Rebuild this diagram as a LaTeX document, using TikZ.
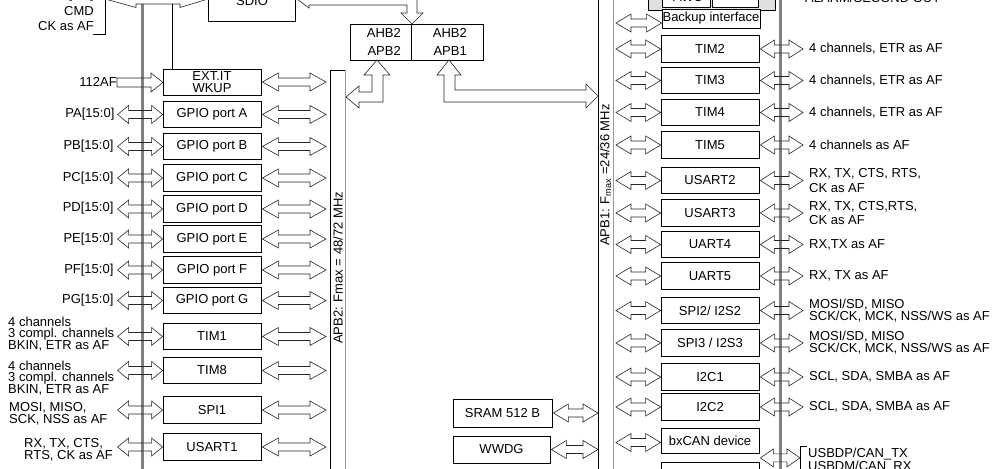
\documentclass[tikz,border=0pt]{standalone}
\usepackage{fontspec}
\setmainfont{Liberation Sans}
\usetikzlibrary{calc}
\newcommand\dbl[3][15pt]{\path[arr] let \p1=#2,\p2=#3 in (\x1,\y1) -- ++(#1,9pt) -- ++(0,-5pt) -- (\x2-#1,\y1+4pt) -- ++(0,5pt) -- (\x2,\y1) -- ++(-#1,-9pt) -- ++(0,5pt) -- (\x1+#1,\y1-4pt) -- ++(0,-5pt) -- cycle;}
\newcommand\lbox[3]{%
 \node[blk] (#1) at (212,#2) {#3};
 \dbl[11pt]{($(#1.west)+(-45,0)$)}{(#1.west)}
 \dbl[16pt]{($(#1.east)+(1,0)$)}{($(#1.east -| apbtwo)+(-4,0)$)}
}
\newcommand\rbox[4]{%
 \node[blk] (#1) at (710,#2) {#3};
 \node[anchor=west, align=left] (#1-l) at (809,#2) {#4};
 \dbl{($(#1.west -| apbone)+(3,0)$)}{(#1.west)}
 \dbl[14pt]{($(#1.east)+(1,0)$)}{($(#1-l.west)+(-6,0)$)}
}
\begin{document}
\begin{tikzpicture}[x=1pt,y=-1pt,
 every node/.style={font=\fontsize{13}{11.8}\selectfont, inner sep=0pt},
 blk/.style={draw, line width=0.8pt, minimum width=98pt, minimum height=26.5pt, align=center},
 arr/.style={draw=black!85, line width=0.6pt},
 bus/.style={draw=black!50, line width=3pt},
 thin/.style={draw, line width=0.8pt}]
\useasboundingbox (0,0) rectangle (1005,469);
\fill[white] (0,0) rectangle (1005,469);
\clip (0,0) rectangle (1005,469);
\coordinate (apbtwo) at (330,70);
\coordinate (apbone) at (613,0);
\coordinate (apbonel) at (598,0);
% buses
\draw[bus] (142,4) -- (142,475);
\draw[bus] (780,-5) -- (780,475);
\draw[thin] (345,70) -- (330,70) -- (330,475);
\draw[draw=black!40, line width=0.9pt] (345,70) -- (345,475);
\draw[thin] (598,-5) -- (598,475);
\draw[draw=black!40, line width=0.9pt] (613,-5) -- (613,475);
\node[rotate=90] (apb2t) at (338,268) {APB2: Fmax = 48/72 MHz};
\node[rotate=90] (apb1t) at (605.5,175) {APB1: F\textsubscript{max} =24/36 MHz};
% top left pins and SDIO
\node[anchor=east] (dpin) at (94,-5) {D[7:0]};
\node[anchor=east] (cmd) at (94,11) {CMD};
\node[anchor=east] (ck) at (94,26.5) {CK as AF};
\draw[thin] (105,-8) -- (105,34) -- (93,34);
\node[draw, line width=0.8pt, minimum width=87pt, minimum height=40pt] (sdio) at (251.5,1.5) {};
\node (sdiot) at (252,1) {SDIO};
\path[arr] (105,-1) -- (136,-9.5) -- (136,-6) -- (180,-6) -- (180,-9.5) -- (208,-1) -- (180,7.5) -- (180,4) -- (136,4) -- (136,7.5) -- cycle;
\path[arr] (297,-1) -- (309,-10) -- (309,-5) -- (417,-5) -- (417,13) -- (423,13) -- (412,24) -- (401,13) -- (407,13) -- (407,5) -- (309,5) -- (309,8) -- cycle;
% AHB bridge
\node[draw, line width=0.8pt, minimum width=61pt, minimum height=36pt] (ahbl) at (380.5,42) {};
\node[draw, line width=0.8pt, minimum width=72pt, minimum height=36pt] (ahbr) at (447,42) {};
\node[anchor=east] at (401,33) {AHB2};
\node[anchor=east] at (401,51) {APB2};
\node[anchor=east] at (467,33) {AHB2};
\node[anchor=east] at (467,51) {APB1};
\path[arr] (377,60) -- (390,75) -- (383,75) -- (383,102) -- (359,102) -- (359,108) -- (346,97) -- (359,86) -- (359,92) -- (372,92) -- (372,75) -- (364,75) -- cycle;
\path[arr] (449,60) -- (461,75) -- (455,75) -- (455,90) -- (586,90) -- (586,84) -- (598,96) -- (586,108) -- (586,102) -- (444,102) -- (444,75) -- (437,75) -- cycle;
% left side
\node[blk, minimum height=26pt] (ext) at (212,82) {EXT.IT\\WKUP};
\draw[thin] ($(ext.north west)+(10,0)$) -- ++(0,-65);
\node[anchor=east] (afl) at (117,82) {112AF};
\path[arr] (117,78) -- (151,78) -- (151,73) -- (163,82.5) -- (151,92) -- (151,87) -- (117,87) -- cycle;
\dbl[16pt]{($(ext.east)+(1,0)$)}{($(ext.east -| apbtwo)+(-4,0)$)}
\lbox{gpa}{114.5}{GPIO port A}
\lbox{gpb}{146.5}{GPIO port B}
\lbox{gpc}{178}{GPIO port C}
\lbox{gpd}{209}{GPIO port D}
\lbox{gpe}{239}{GPIO port E}
\lbox{gpf}{270}{GPIO port F}
\lbox{gpg}{300.5}{GPIO port G}
\lbox{tim1}{336.5}{TIM1}
\lbox{tim8}{370.5}{TIM8}
\lbox{spi1}{410}{SPI1}
\lbox{usart1}{447}{USART1}
\node[anchor=east] at ($(gpa.west)+(-48,0)$) {PA[15:0]};
\node[anchor=east] at ($(gpb.west)+(-49,0)$) {PB[15:0]};
\node[anchor=east] at ($(gpc.west)+(-49,0)$) {PC[15:0]};
\node[anchor=east] at ($(gpd.west)+(-49,-1)$) {PD[15:0]};
\node[anchor=east] at ($(gpe.west)+(-49,0)$) {PE[15:0]};
\node[anchor=east] at ($(gpf.west)+(-49,0)$) {PF[15:0]};
\node[anchor=east] at ($(gpg.west)+(-49,0)$) {PG[15:0]};
\node[anchor=west, align=left] at (8,334) {4 channels\\3 compl. channels\\BKIN, ETR as AF};
\node[anchor=west, align=left] at (8,378) {4 channels\\3 compl. channels\\BKIN, ETR as AF};
\node[anchor=west, align=left] at (9,414) {MOSI, MISO,\\SCK, NSS as AF};
\node[anchor=west, align=left] at (24,450) {RX, TX, CTS,\\RTS, CK as AF};
% middle
\node[blk, minimum width=99pt, minimum height=28pt] (sram) at (502.5,413) {SRAM 512 B};
\node[blk, minimum width=97pt, minimum height=27pt] (wwdg) at (501.5,449.5) {WWDG};
\dbl{($(sram.east)+(1,0)$)}{(sram.east -| apbonel)}
\dbl{($(wwdg.east)+(1,0)$)}{(wwdg.east -| apbonel)}
% right top: backup domain
\draw[line width=0.8pt, fill=black!12] (648,-40) rectangle (775,10);
\draw[line width=0.8pt, fill=white] (662,-40) rectangle (710,7);
\draw[line width=0.8pt, fill=white] (712,-40) rectangle (758,7);
\node (awu) at (688,-3) {AWU};
\node (alarm) [anchor=west] at (805,-2) {ALARM/SECOND OUT};
\node[blk, fill=white, minimum height=19pt] (bkp) at (711,18.5) {Backup interface};
\dbl{($(bkp.west -| apbone)+(3,4.5)$)}{($(bkp.west)+(0,4.5)$)}
% right side
\rbox{tim2}{49}{TIM2}{4 channels, ETR as AF}
\rbox{tim3}{80.5}{TIM3}{4 channels, ETR as AF}
\rbox{tim4}{112.5}{TIM4}{4 channels, ETR as AF}
\rbox{tim5}{145}{TIM5}{4 channels as AF}
\rbox{usart2}{180.5}{USART2}{RX, TX, CTS, RTS,\\[2.5pt]CK as AF}
\rbox{usart3}{213}{USART3}{RX, TX, CTS,RTS,\\[2.5pt]CK as AF}
\rbox{uart4}{244.5}{UART4}{RX,TX as AF}
\rbox{uart5}{276}{UART5}{RX, TX as AF}
\rbox{spi2}{310.5}{SPI2/ I2S2}{MOSI/SD, MISO\\SCK/CK, MCK, NSS/WS as AF}
\rbox{spi3}{343}{SPI3 / I2S3}{MOSI/SD, MISO\\SCK/CK, MCK, NSS/WS as AF}
\rbox{i2c1}{377}{I2C1}{SCL, SDA, SMBA as AF}
\rbox{i2c2}{407}{I2C2}{SCL, SDA, SMBA as AF}
\node[blk, minimum height=25pt] (can) at (710,440.5) {bxCAN device};
\dbl{($(can.west -| apbone)+(3,2)$)}{($(can.west)+(0,2)$)}
\node[blk] (usb) at (710,476) {USB 2.0 FS};
\coordinate (usbbr) at (800,446);
\draw[thin] ($(usbbr)+(7,0)$) -- (usbbr) -- ++(0,30);
\node[anchor=west, align=left] (usbl) at (808,461) {USBDP/CAN\_TX\\USBDM/CAN\_RX};
\coordinate (canusb) at ($(can.south east)!0.5!(usb.north east)$);
\dbl[13pt]{($(canusb)+(1,0)$)}{(canusb -| usbbr)}
\end{tikzpicture}
\end{document}
